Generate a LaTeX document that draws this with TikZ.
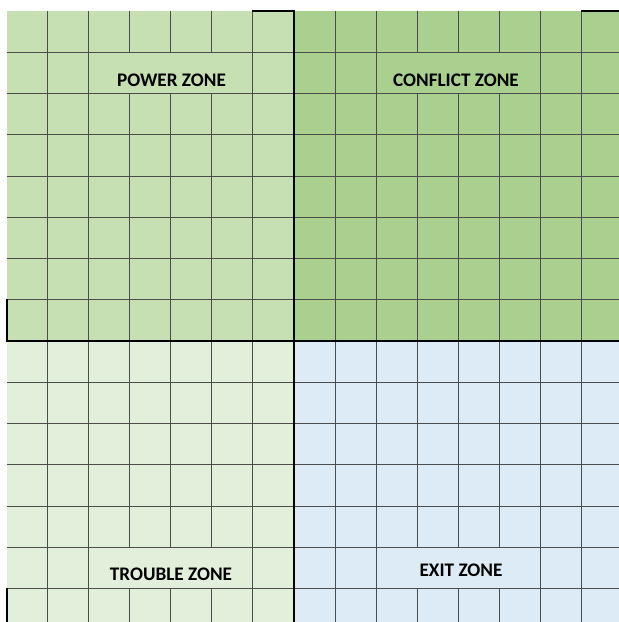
\documentclass[tikz,border=0pt]{standalone}
\usepackage{fontspec}
\setmainfont{Carlito}
\definecolor{powergreen}{HTML}{C6E0B4}
\definecolor{conflictgreen}{HTML}{A9D08E}
\definecolor{troublegreen}{HTML}{E2EFDA}
\definecolor{exitblue}{HTML}{DDEBF7}
\tikzset{
  gridline/.style={line width=1pt, black!70},
  zoneedge/.style={line width=2pt, black, line cap=rect},
  zonelabel/.style={font=\fontsize{19.2}{21}\selectfont\bfseries, anchor=base, inner sep=0pt}
}
\begin{document}
\begin{tikzpicture}[x=1pt,y=-1pt]
  \useasboundingbox (0,0) rectangle (619,622);
  \fill[white] (0,0) rectangle (619,622);
  \fill[powergreen] (6.5,11) rectangle (294,341);
  \fill[conflictgreen] (294,11) rectangle (619,341);
  \fill[troublegreen] (6.5,341) rectangle (294,622);
  \fill[exitblue] (294,341) rectangle (619,622);
  % horizontal lines
  \foreach \j in {1,...,14}
    \draw[gridline] (6.5,11+41.25*\j) -- (619,11+41.25*\j);
  % vertical lines, broken at the merged label cells
  \foreach \i in {1,...,14} {
    \pgfmathsetmacro{\xx}{6.5+41.07*\i}
    \ifnum\i=3 \def\merged{1}\else\ifnum\i=4 \def\merged{1}\else\ifnum\i=5 \def\merged{1}\else
    \ifnum\i=10 \def\merged{1}\else\ifnum\i=11 \def\merged{1}\else\ifnum\i=12 \def\merged{1}\else
    \def\merged{0}\fi\fi\fi\fi\fi\fi
    \ifnum\merged=1
      \draw[gridline] (\xx,11) -- (\xx,52.25) (\xx,93.5) -- (\xx,547.25) (\xx,588.5) -- (\xx,622);
    \else
      \draw[gridline] (\xx,11) -- (\xx,622);
    \fi
  }
  % thick zone borders
  \draw[zoneedge] (252.9,11) -- (294,11) -- (294,622);
  \draw[zoneedge] (581.5,11) -- (619,11);
  \draw[zoneedge] (6.5,299.75) -- (6.5,341) -- (619,341);
  \draw[zoneedge] (6.5,588.5) -- (6.5,622);
  % labels
  \node[zonelabel] (power) at (171.5,86) {POWER ZONE};
  \node[zonelabel] (conflict) at (456,86) {CONFLICT ZONE};
  \node[zonelabel] (trouble) at (171,580) {TROUBLE ZONE};
  \node[zonelabel] (exit) at (461,576) {EXIT ZONE};
\end{tikzpicture}
\end{document}
